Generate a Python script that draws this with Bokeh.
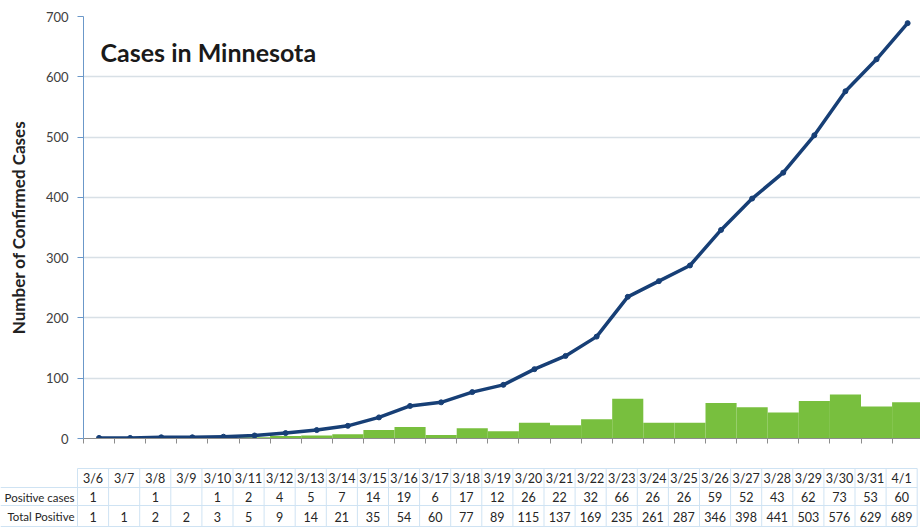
from bokeh.plotting import figure
from bokeh.layouts import column
from bokeh.models import Range1d, FixedTicker, Label
from bokeh.core.properties import value
from bokeh.embed import file_html
from bokeh.resources import INLINE

# ---- data ----
dates = ["3/6", "3/7", "3/8", "3/9", "3/10", "3/11", "3/12", "3/13", "3/14",
         "3/15", "3/16", "3/17", "3/18", "3/19", "3/20", "3/21", "3/22", "3/23",
         "3/24", "3/25", "3/26", "3/27", "3/28", "3/29", "3/30", "3/31", "4/1"]
positive_cases = [1, None, 1, None, 1, 2, 4, 5, 7, 14, 19, 6, 17, 12, 26, 22,
                  32, 66, 26, 26, 59, 52, 43, 62, 73, 53, 60]
total_positive = [1, 1, 2, 2, 3, 5, 9, 14, 21, 35, 54, 60, 77, 89, 115, 137,
                  169, 235, 261, 287, 346, 398, 441, 503, 576, 629, 689]
y_ticks = [0, 100, 200, 300, 400, 500, 600, 700]
row_labels = ["Positive cases", "Total Positive"]
title_text = "Cases in Minnesota"
y_title = "Number of Confirmed Cases"

# ---- layout constants ----
W = 920
H = 529
BAND = 31.1          # px per category
LEFT = 83            # chart left border
FRAME_W = W - LEFT
FRAME_H = 422
TOP = 16
BOTTOM = 20
XEND = FRAME_W / BAND
YMAX = 700
YPX = FRAME_H / YMAX

FONT = "Lato"
NAVY = "#173f76"
GREEN = "#78bf3e"

n = len(dates)
centers = [i + 0.5 for i in range(n)]

p = figure(width=W, height=TOP + FRAME_H + BOTTOM,
           x_range=Range1d(0, XEND), y_range=Range1d(0, YMAX),
           output_backend="svg", toolbar_location=None,
           min_border_left=LEFT, min_border_right=0,
           min_border_top=TOP, min_border_bottom=BOTTOM)
p.outline_line_color = None
p.background_fill_color = "white"
p.frame_align = False

# bars
bx = [c for c, v in zip(centers, positive_cases) if v is not None]
bt = [v for v in positive_cases if v is not None]
p.vbar(x=bx, top=bt, bottom=0, width=1.0, fill_color=GREEN, line_color=None)

# line
p.line(centers, total_positive, line_color=NAVY, line_width=3.5,
       line_join="round", line_cap="round")
p.scatter(centers, total_positive, size=5, fill_color=NAVY, line_color=NAVY)

# axes
p.xgrid.grid_line_color = None
p.ygrid.grid_line_color = "#d8e0e6"
p.ygrid.grid_line_width = 1.5
p.ygrid.ticker = FixedTicker(ticks=y_ticks)

p.yaxis.ticker = FixedTicker(ticks=y_ticks)
p.yaxis.axis_line_color = "#6b98c9"
p.yaxis.major_tick_line_color = "#6b98c9"
p.yaxis.major_tick_out = 6
p.yaxis.major_tick_in = 0
p.yaxis.minor_tick_line_color = None
p.yaxis.major_label_text_font = FONT
p.yaxis.major_label_text_font_size = "13px"
p.yaxis.major_label_text_color = "#404040"
p.yaxis.major_label_standoff = 9
p.yaxis.axis_label = y_title
p.yaxis.axis_label_text_font = FONT
p.yaxis.axis_label_text_font_style = "bold"
p.yaxis.axis_label_text_font_size = "17px"
p.yaxis.axis_label_text_color = "#222222"
p.yaxis.axis_label_standoff = 14

p.xaxis.ticker = FixedTicker(ticks=list(range(n + 1)))
p.xaxis.axis_line_color = "#8c8c8c"
p.xaxis.major_tick_line_color = "#8c8c8c"
p.xaxis.major_tick_out = 5
p.xaxis.major_tick_in = 0
p.xaxis.minor_tick_line_color = None
p.xaxis.major_label_text_alpha = 0
p.xaxis.major_label_text_font_size = "1px"

p.add_layout(Label(x=(100 - LEFT) / BAND, y=YMAX - (51 - TOP) / YPX,
                   text=title_text, text_font=FONT, text_font_style="bold",
                   text_font_size="25px", text_color="#1a1a1a",
                   text_baseline="alphabetic"))

# ---- table ----
TH = H - (TOP + FRAME_H + BOTTOM)   # table height (px)
TS = -77 / BAND
TE = TS + W / BAND
t = figure(width=W, height=TH, x_range=Range1d(TS, TE), y_range=Range1d(TH, 0),
           output_backend="svg", toolbar_location=None,
           x_axis_location=None, y_axis_location=None,
           min_border=0, min_border_left=0, min_border_right=0,
           min_border_top=0, min_border_bottom=0)
t.frame_align = False
t.outline_line_color = None
t.xgrid.grid_line_color = None
t.ygrid.grid_line_color = None

# grid of the table (figure px from top)
top_line, r1, r2, bot = 10, 29, 47, 68
GRID = "#cfe3f3"
vx = list(range(n + 1))
t.segment(x0=vx, y0=[top_line] * len(vx), x1=vx, y1=[bot] * len(vx),
          line_color=GRID, line_width=1)
t.segment(x0=[0, TS, TS, TS], y0=[top_line, r1, r2, bot],
          x1=[n, n, n, n], y1=[top_line, r1, r2, bot],
          line_color=GRID, line_width=1)

txt_kw = dict(text_font=value(FONT), text_font_size="12.5px", text_color="#262626",
              text_baseline="middle")
t.text(x=centers, y=[(top_line + r1) / 2 + 0.5] * n, text=dates, text_align="center", **txt_kw)
t.text(x=centers, y=[(r1 + r2) / 2 + 0.5] * n,
       text=["" if v is None else str(v) for v in positive_cases],
       text_align="center", **txt_kw)
t.text(x=centers, y=[(r2 + bot) / 2 + 0.5] * n,
       text=[str(v) for v in total_positive], text_align="center", **txt_kw)
lab_kw = dict(txt_kw, text_font_size="11.5px")
t.text(x=[TS + 74 / BAND] * 2, y=[(r1 + r2) / 2 + 0.5, (r2 + bot) / 2 + 0.5],
       text=row_labels, text_align="right", **lab_kw)

layout = column(p, t, spacing=0)
open("out.html", "w").write(file_html(layout, INLINE))
